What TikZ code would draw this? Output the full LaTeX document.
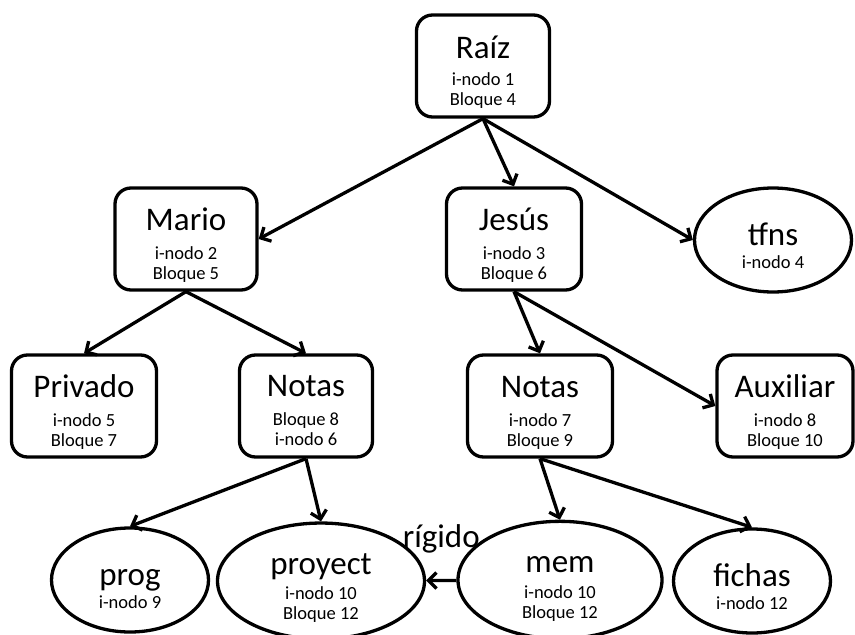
\documentclass[tikz,border=0pt]{standalone}
\usepackage{fontspec}
\setmainfont{Carlito}
\usetikzlibrary{positioning, shapes.geometric, arrows.meta}
\newcommand{\titlefont}{\fontsize{33}{40}\selectfont}
\newcommand{\detfont}{\fontsize{18.5}{20}\selectfont}
\newcommand{\nombre}[1]{{\titlefont\rule{0pt}{34pt}#1}}

\begin{document}
\begin{tikzpicture}[x=1pt, y=-1pt, on grid,
                    >={Straight Barb[length=8pt,width=16pt]},
                    dirbox/.style={rectangle, rounded corners=16pt, draw, line width=3.3pt, inner sep=2pt,
                                   minimum width=138pt, minimum height=102pt, align=center, font=\detfont},
                    filenode/.style={ellipse, draw, line width=3.3pt, minimum width=157pt,
                                     minimum height=104pt, inner sep=0pt, align=center, font=\detfont},
                    link/.style={->, line width=3.3pt}]
  \useasboundingbox (0,0) rectangle (855,635);
  % directorios
  \node[dirbox, minimum width=133pt] (raiz) at (483,66) {\nombre{Raíz}\\[7pt] i-nodo 1\\ Bloque 4};
  \node[dirbox, minimum width=142pt, below left=173pt and 297pt of raiz] (mario) {\nombre{Mario}\\[9pt] i-nodo 2\\ Bloque 5};
  \node[dirbox, minimum width=135pt, below right=173pt and 31pt of raiz] (jesus) {\nombre{Jesús}\\[9pt] i-nodo 3\\ Bloque 6};
  \node[filenode, below right=174pt and 290pt of raiz] (tfns) {\nombre{tfns}\\[3pt] i-nodo 4};
  \node[dirbox, minimum width=145pt, below left=167pt and 102pt of mario] (privado) {\nombre{Privado}\\[9pt] i-nodo 5\\ Bloque 7};
  \node[dirbox, minimum width=133pt, below right=167pt and 120pt of mario] (notasm) {\nombre{Notas}\\[9pt] Bloque 8\\ i-nodo 6\rule[-4pt]{0pt}{4pt}};
  \node[dirbox, minimum width=145pt, below right=167pt and 26pt of jesus] (notasj) {\nombre{Notas}\\[9pt] i-nodo 7\\ Bloque 9};
  \node[dirbox, minimum width=136pt, below right=167pt and 271pt of jesus] (aux) {\nombre{Auxiliar}\\[9pt] i-nodo 8\\ Bloque 10};
  % ficheros
  \node[filenode, below left=174pt and 176pt of notasm] (prog) {\nombre{prog}\\[3pt] i-nodo 9};
  \node[filenode, minimum width=207pt, below right=175pt and 15pt of notasm] (proyect) {\nombre{proyect}\\[5pt] i-nodo 10\\ Bloque 12};
  \node[filenode, minimum width=204pt, below right=174pt and 20pt of notasj] (mem) {\nombre{mem}\\[6pt] i-nodo 10\\ Bloque 12};
  \node[filenode, below right=175pt and 212pt of notasj] (fichas) {\nombre{fichas}\\[3pt] i-nodo 12};

  \draw[link] (raiz.south) -- (mario.east);
  \draw[link] (raiz.south) -- (jesus.north);
  \draw[link] (raiz.south) -- (tfns.west);
  \draw[link] (mario.south) -- (privado.north);
  \draw[link] (mario.south) -- (notasm.north);
  \draw[link] (jesus.south) -- (notasj.north);
  \draw[link] (jesus.south) -- (aux.west);
  \draw[link] (notasm.south) -- (prog.north);
  \draw[link] (notasm.south) -- (proyect.north);
  \draw[link] (notasj.south) -- (mem.north);
  \draw[link] (notasj.south) -- (fichas.north);
  \draw[link] (mem) -- node[above=26pt, inner sep=0pt, font=\titlefont] {rígido} (proyect);
\end{tikzpicture}
\end{document}
